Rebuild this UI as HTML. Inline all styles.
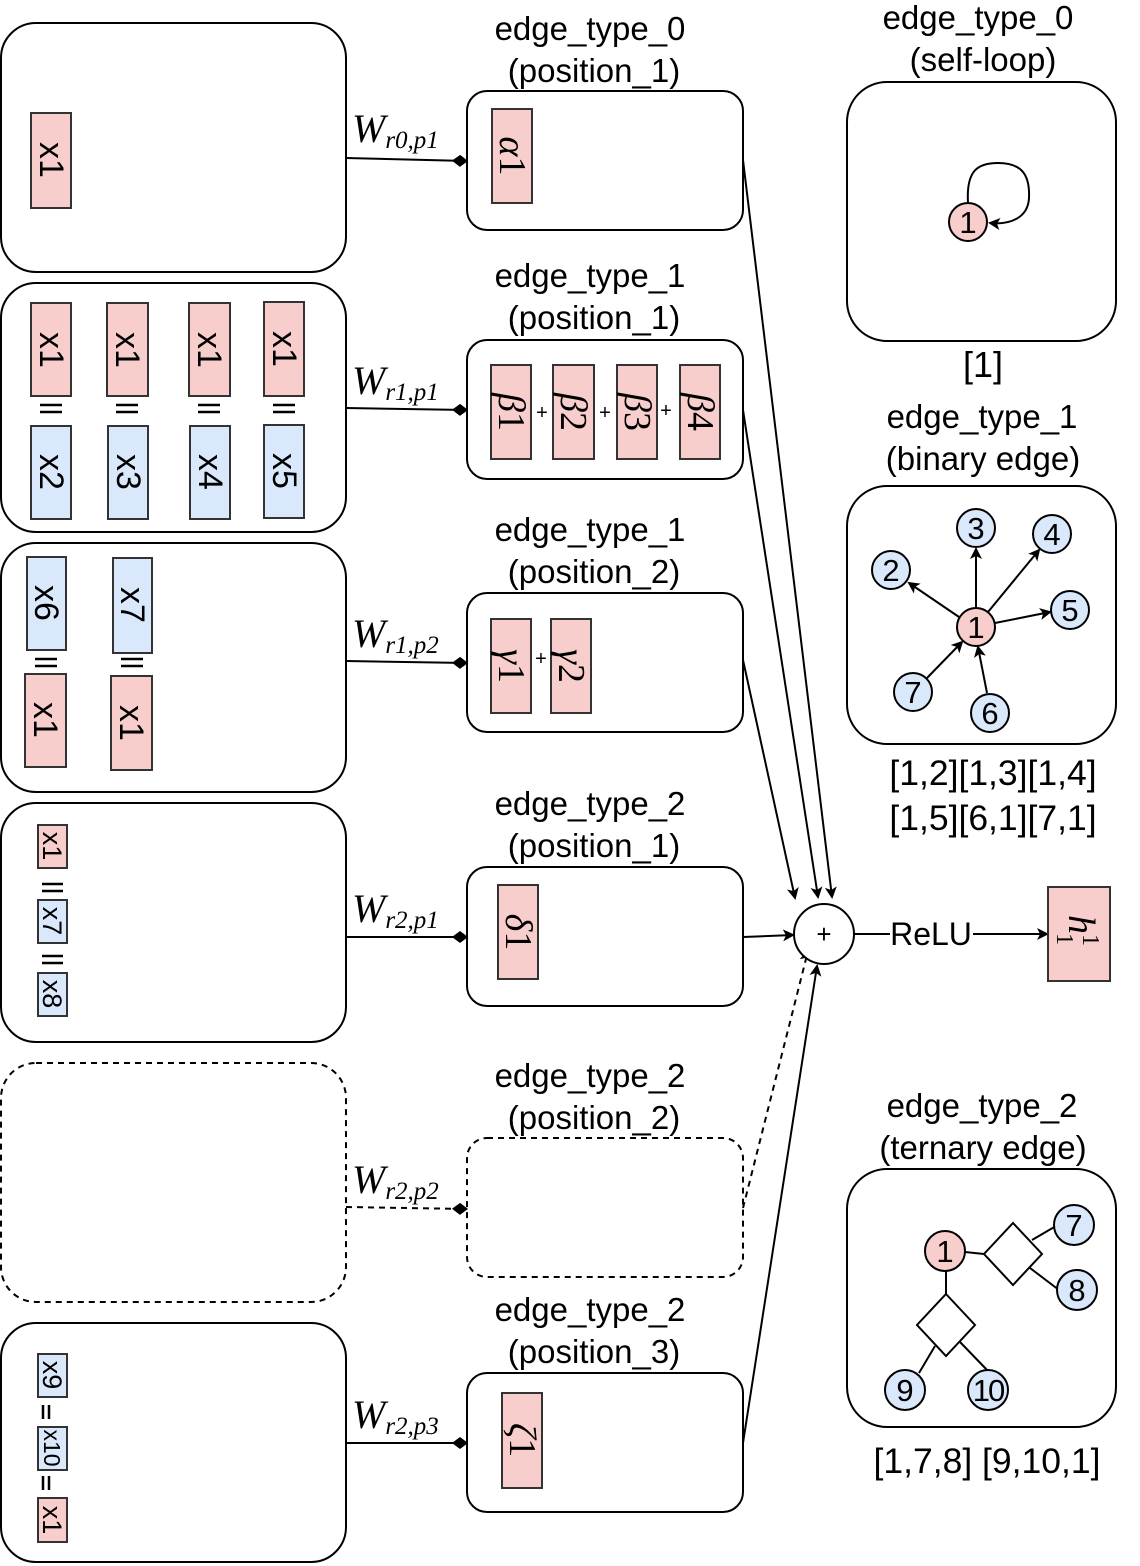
<!DOCTYPE html>
<html><head><meta charset="utf-8"><style>
html,body{margin:0;padding:0;background:#fff;}
svg{display:block;}
.t{font-family:"Liberation Sans",sans-serif;fill:#000;}
.m{font-family:"Liberation Serif",serif;font-style:italic;}
.r{font-family:"Liberation Sans",sans-serif;}
</style></head><body>
<svg width="1140" height="1566" viewBox="0 0 1140 1566" xmlns="http://www.w3.org/2000/svg">
<defs>
<marker id="a" markerWidth="12" markerHeight="12" refX="10" refY="6" orient="auto" markerUnits="userSpaceOnUse">
<path d="M0,0 L12,6 L0,12 L3,6 Z" fill="#000"/></marker>
<marker id="d" markerWidth="16" markerHeight="12" refX="15" refY="6" orient="auto" markerUnits="userSpaceOnUse">
<path d="M0,6 L8,0 L16,6 L8,12 Z" fill="#000"/></marker>
</defs>
<g fill="none" stroke="#000" stroke-width="2">
<rect x="1" y="23" width="345" height="249" rx="35"/>
<rect x="1" y="283" width="345" height="249" rx="35"/>
<rect x="1" y="543" width="345" height="249" rx="35"/>
<rect x="1" y="803" width="345" height="239" rx="35"/>
<rect x="1" y="1063" width="345" height="239" rx="35" stroke-dasharray="6,5"/>
<rect x="1" y="1323" width="345" height="239" rx="35"/>
<rect x="467" y="91" width="276" height="139" rx="20"/>
<rect x="467" y="340" width="276" height="139" rx="20"/>
<rect x="467" y="593" width="276" height="139" rx="20"/>
<rect x="467" y="867" width="276" height="139" rx="20"/>
<rect x="467" y="1138" width="276" height="139" rx="20" stroke-dasharray="6,5"/>
<rect x="467" y="1373" width="276" height="139" rx="20"/>
<rect x="847" y="82" width="269" height="259" rx="40"/>
<rect x="847" y="486" width="269" height="258" rx="40"/>
<rect x="847" y="1169" width="269" height="258" rx="40"/>
<line x1="346" y1="158" x2="467" y2="161" marker-end="url(#d)"/>
<line x1="346" y1="408" x2="467" y2="410" marker-end="url(#d)"/>
<line x1="346" y1="661" x2="467" y2="663" marker-end="url(#d)"/>
<line x1="346" y1="937" x2="467" y2="937" marker-end="url(#d)"/>
<line x1="346" y1="1207" x2="467" y2="1209" marker-end="url(#d)" stroke-dasharray="6,5"/>
<line x1="346" y1="1443" x2="467" y2="1443" marker-end="url(#d)"/>
<line x1="743" y1="160" x2="832" y2="897" marker-end="url(#a)"/>
<line x1="743" y1="410" x2="818" y2="897" marker-end="url(#a)"/>
<line x1="743" y1="660" x2="795" y2="898" marker-end="url(#a)"/>
<line x1="743" y1="937" x2="793" y2="935" marker-end="url(#a)"/>
<line x1="743" y1="1208" x2="808" y2="951" marker-end="url(#a)" stroke-dasharray="6,5"/>
<line x1="743" y1="1443" x2="817" y2="966" marker-end="url(#a)"/>
<circle cx="824" cy="934" r="30" fill="#fff"/>
<line x1="854" y1="934" x2="890" y2="934"/>
<line x1="973" y1="934" x2="1047" y2="934" marker-end="url(#a)"/>
</g>
<text x="824" y="943" text-anchor="middle" class="t" style="font-size:26px">+</text>
<text x="931" y="945" text-anchor="middle" class="t" style="font-size:32px">ReLU</text>
<rect x="1048" y="887" width="62" height="94" fill="#f8cecc" stroke="#333" stroke-width="2"/>
<g transform="rotate(90,1079,934)"><text x="1075" y="944" text-anchor="middle" class="m" font-size="38">h<tspan font-size="24" font-style="normal" dy="-14">1</tspan><tspan font-size="24" font-style="normal" dx="-12" dy="26">1</tspan></text></g>

<g class="m" font-size="40">
<text x="352" y="142">W<tspan font-size="25" dy="6">r0,p1</tspan></text>
<text x="352" y="394">W<tspan font-size="25" dy="6">r1,p1</tspan></text>
<text x="352" y="647">W<tspan font-size="25" dy="6">r1,p2</tspan></text>
<text x="352" y="922">W<tspan font-size="25" dy="6">r2,p1</tspan></text>
<text x="352" y="1193">W<tspan font-size="25" dy="6">r2,p2</tspan></text>
<text x="352" y="1428">W<tspan font-size="25" dy="6">r2,p3</tspan></text>
</g>

<g class="t" text-anchor="middle" font-size="33">
<text x="590" y="40">edge_type_0</text><text x="594" y="82">(position_1)</text>
<text x="590" y="287">edge_type_1</text><text x="594" y="329">(position_1)</text>
<text x="590" y="541">edge_type_1</text><text x="594" y="583">(position_2)</text>
<text x="590" y="815">edge_type_2</text><text x="594" y="857">(position_1)</text>
<text x="590" y="1087">edge_type_2</text><text x="594" y="1129">(position_2)</text>
<text x="590" y="1321">edge_type_2</text><text x="594" y="1363">(position_3)</text>
<text x="978" y="29">edge_type_0</text><text x="983" y="71">(self-loop)</text>
<text x="983" y="377" font-size="36">[1]</text>
<text x="982" y="428">edge_type_1</text><text x="983" y="470">(binary edge)</text>
<text x="993" y="785" font-size="35.5">[1,2][1,3][1,4]</text>
<text x="993" y="830" font-size="35.5">[1,5][6,1][7,1]</text>
<text x="982" y="1117">edge_type_2</text><text x="983" y="1159">(ternary edge)</text>
<text x="987" y="1473" font-size="35.5">[1,7,8] [9,10,1]</text>
</g>

<g stroke="#333" stroke-width="2">
<rect x="31" y="113" width="40" height="95" fill="#f8cecc"/>
<rect x="31" y="303" width="40" height="93" fill="#f8cecc"/>
<rect x="107" y="303" width="41" height="93" fill="#f8cecc"/>
<rect x="189" y="303" width="41" height="93" fill="#f8cecc"/>
<rect x="264" y="302" width="40" height="94" fill="#f8cecc"/>
<rect x="31" y="426" width="40" height="93" fill="#dae8fc"/>
<rect x="108" y="426" width="40" height="93" fill="#dae8fc"/>
<rect x="190" y="426" width="40" height="93" fill="#dae8fc"/>
<rect x="264" y="425" width="40" height="93" fill="#dae8fc"/>
<rect x="27" y="557" width="39" height="93" fill="#dae8fc"/>
<rect x="113" y="558" width="39" height="95" fill="#dae8fc"/>
<rect x="25" y="674" width="41" height="93" fill="#f8cecc"/>
<rect x="111" y="676" width="41" height="94" fill="#f8cecc"/>
<rect x="38" y="825" width="29" height="43" fill="#f8cecc"/>
<rect x="38" y="900" width="29" height="43" fill="#dae8fc"/>
<rect x="38" y="973" width="29" height="43" fill="#dae8fc"/>
<rect x="38" y="1354" width="29" height="43" fill="#dae8fc"/>
<rect x="38" y="1427" width="29" height="43" fill="#dae8fc"/>
<rect x="38" y="1498" width="29" height="44" fill="#f8cecc"/>
<rect x="492" y="109" width="40" height="94" fill="#f8cecc"/>
<rect x="491" y="365" width="40" height="94" fill="#f8cecc"/>
<rect x="553" y="365" width="41" height="94" fill="#f8cecc"/>
<rect x="617" y="365" width="40" height="94" fill="#f8cecc"/>
<rect x="680" y="365" width="40" height="94" fill="#f8cecc"/>
<rect x="491" y="619" width="40" height="94" fill="#f8cecc"/>
<rect x="551" y="619" width="40" height="94" fill="#f8cecc"/>
<rect x="498" y="885" width="40" height="94" fill="#f8cecc"/>
<rect x="502" y="1393" width="40" height="95" fill="#f8cecc"/>
</g>
<g class="r" text-anchor="middle" dominant-baseline="central" font-size="34">
<text transform="translate(51,160) rotate(90)">x1</text>
<text transform="translate(51,350) rotate(90)">x1</text>
<text transform="translate(127,350) rotate(90)">x1</text>
<text transform="translate(209,350) rotate(90)">x1</text>
<text transform="translate(284,349) rotate(90)">x1</text>
<text transform="translate(51,472) rotate(90)">x2</text>
<text transform="translate(128,472) rotate(90)">x3</text>
<text transform="translate(210,472) rotate(90)">x4</text>
<text transform="translate(284,471) rotate(90)">x5</text>
<text transform="translate(46,603) rotate(90)">x6</text>
<text transform="translate(132,605) rotate(90)">x7</text>
<text transform="translate(45,720) rotate(90)">x1</text>
<text transform="translate(131,723) rotate(90)">x1</text>
<g font-size="27">
<text transform="translate(52,846) rotate(90)">x1</text>
<text transform="translate(52,921) rotate(90)">x7</text>
<text transform="translate(52,994) rotate(90)">x8</text>
<text transform="translate(52,1375) rotate(90)">x9</text>
<text transform="translate(52,1448) rotate(90)" font-size="23">x10</text>
<text transform="translate(52,1520) rotate(90)">x1</text>
</g>
</g>
<g stroke="#000" stroke-width="2.5">
<path d="M40,405h22M40,412h22M116,405h22M116,412h22M198,405h22M198,412h22M273,405h22M273,412h22"/>
<path d="M35,659h22M35,666h22M121,659h22M121,666h22"/>
<path d="M42,884h21M42,891h21M42,956h21M42,963h21"/>
<path d="M43,1405v14M49,1405v14M43,1476v14M49,1476v14"/>
</g>
<g class="r" text-anchor="middle" font-size="20">
<text x="542" y="419">+</text><text x="605" y="419">+</text><text x="666" y="417">+</text><text x="541" y="665">+</text>
</g>
<g class="m" text-anchor="middle" dominant-baseline="central" font-size="38">
<text transform="translate(512,156) rotate(90)">α<tspan font-style="normal">1</tspan></text>
<text transform="translate(511,412) rotate(90)">β<tspan font-style="normal">1</tspan></text>
<text transform="translate(573,412) rotate(90)">β<tspan font-style="normal">2</tspan></text>
<text transform="translate(637,412) rotate(90)">β<tspan font-style="normal">3</tspan></text>
<text transform="translate(700,412) rotate(90)">β<tspan font-style="normal">4</tspan></text>
<text transform="translate(511,666) rotate(90)">γ<tspan font-style="normal">1</tspan></text>
<text transform="translate(571,666) rotate(90)">γ<tspan font-style="normal">2</tspan></text>
<text transform="translate(518,932) rotate(90)">δ<tspan font-style="normal">1</tspan></text>
<text transform="translate(522,1440) rotate(90)">ζ<tspan font-style="normal">1</tspan></text>
</g>

<g fill="none" stroke="#000" stroke-width="2">
<path d="M968,203 C966,170 978,163 998,163 C1022,163 1030,175 1029,198 C1028,218 1010,225 990,223" marker-end="url(#a)"/>
<line x1="976" y1="608" x2="976" y2="549" marker-end="url(#a)"/>
<line x1="988" y1="612" x2="1039" y2="550" marker-end="url(#a)"/>
<line x1="959" y1="617" x2="909" y2="583" marker-end="url(#a)"/>
<line x1="995" y1="623" x2="1050" y2="612" marker-end="url(#a)"/>
<line x1="927" y1="678" x2="962" y2="642" marker-end="url(#a)"/>
<line x1="987" y1="693" x2="978" y2="647" marker-end="url(#a)"/>
<line x1="965" y1="1252" x2="984" y2="1254"/>
<line x1="1032" y1="1240" x2="1056" y2="1226"/>
<line x1="1030" y1="1268" x2="1059" y2="1290"/>
<line x1="946" y1="1271" x2="946" y2="1294"/>
<line x1="935" y1="1346" x2="919" y2="1373"/>
<line x1="960" y1="1342" x2="988" y2="1371"/>
</g>
<g stroke="#000" stroke-width="2">
<path d="M1013,1223 L1042,1254 L1013,1285 L984,1254 Z" fill="#fff"/>
<path d="M946,1294 L975,1325 L946,1356 L917,1325 Z" fill="#fff"/>
<circle cx="968" cy="222" r="19" fill="#f8cecc"/>
<circle cx="976" cy="627" r="19" fill="#f8cecc"/>
<circle cx="976" cy="528" r="19" fill="#dae8fc"/>
<circle cx="1052" cy="534" r="19" fill="#dae8fc"/>
<circle cx="891" cy="570" r="19" fill="#dae8fc"/>
<circle cx="1070" cy="610" r="19" fill="#dae8fc"/>
<circle cx="913" cy="692" r="19" fill="#dae8fc"/>
<circle cx="990" cy="713" r="19" fill="#dae8fc"/>
<circle cx="945" cy="1251" r="20" fill="#f8cecc"/>
<circle cx="1074" cy="1225" r="20" fill="#dae8fc"/>
<circle cx="1077" cy="1290" r="20" fill="#dae8fc"/>
<circle cx="905" cy="1390" r="20" fill="#dae8fc"/>
<circle cx="988" cy="1390" r="20" fill="#dae8fc"/>
</g>
<g class="t" text-anchor="middle" font-size="31">
<text x="968" y="233">1</text><text x="976" y="638">1</text><text x="976" y="539">3</text>
<text x="1052" y="545">4</text><text x="891" y="581">2</text><text x="1070" y="621">5</text>
<text x="913" y="703">7</text><text x="990" y="724">6</text>
<text x="945" y="1262">1</text><text x="1074" y="1236">7</text><text x="1077" y="1301">8</text>
<text x="905" y="1401">9</text><text x="988" y="1401" letter-spacing="-2">10</text>
</g>
</svg>
</body></html>
